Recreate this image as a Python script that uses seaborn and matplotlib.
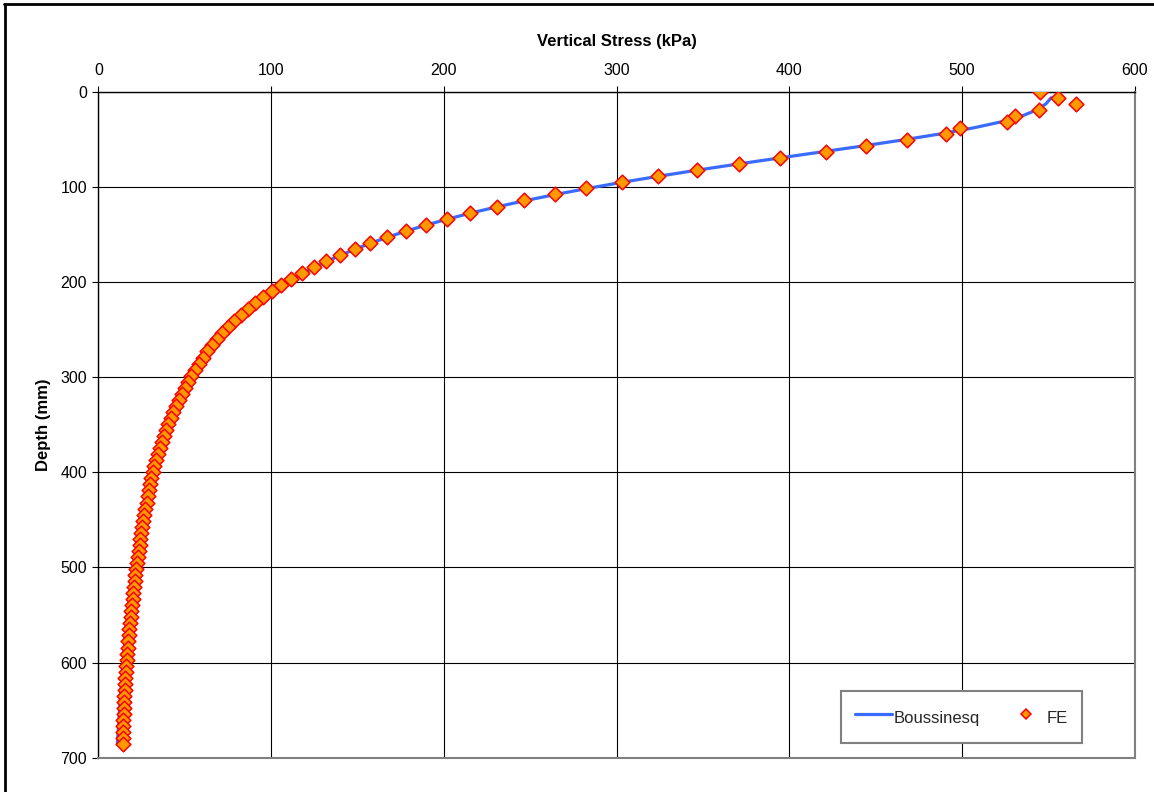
import matplotlib
matplotlib.use("Agg")
import matplotlib.pyplot as plt
from matplotlib.lines import Line2D
import seaborn as sns
import pandas as pd

sns.set_theme(style="white")
plt.rcParams["font.family"] = ["Liberation Sans", "DejaVu Sans"]

# Depth of each output point (mm)
depth_mm = [
    0.0, 6.35, 12.7, 19.05, 25.4, 31.75, 38.1, 44.45, 50.8, 57.15,
    63.5, 69.85, 76.2, 82.55, 88.9, 95.25, 101.6, 107.95, 114.3, 120.65,
    127.0, 133.35, 139.7, 146.05, 152.4, 158.75, 165.1, 171.45, 177.8, 184.15,
    190.5, 196.85, 203.2, 209.55, 215.9, 222.25, 228.6, 234.95, 241.3, 247.65,
    254.0, 260.35, 266.7, 273.05, 279.4, 285.75, 292.1, 298.45, 304.8, 311.15,
    317.5, 323.85, 330.2, 336.55, 342.9, 349.25, 355.6, 361.95, 368.3, 374.65,
    381.0, 387.35, 393.7, 400.05, 406.4, 412.75, 419.1, 425.45, 431.8, 438.15,
    444.5, 450.85, 457.2, 463.55, 469.9, 476.25, 482.6, 488.95, 495.3, 501.65,
    508.0, 514.35, 520.7, 527.05, 533.4, 539.75, 546.1, 552.45, 558.8, 565.15,
    571.5, 577.85, 584.2, 590.55, 596.9, 603.25, 609.6, 615.95, 622.3, 628.65,
    635.0, 641.35, 647.7, 654.05, 660.4, 666.75, 673.1, 679.45, 685.8,
]

# Finite element vertical stress (kPa)
fe_kpa = [
    545.3, 555.7, 566.1, 544.6, 530.7, 525.9, 498.9, 490.5, 468.1, 444.2,
    420.9, 394.8, 370.9, 346.7, 323.9, 302.9, 282.5, 264.1, 246.1, 230.6,
    215.1, 202.0, 189.5, 178.0, 167.2, 157.3, 148.3, 139.8, 131.5, 124.8,
    117.7, 111.7, 105.7, 100.5, 95.5, 90.9, 86.6, 82.6, 78.5, 75.0,
    71.8, 68.9, 66.0, 62.9, 60.6, 58.3, 56.0, 53.6, 52.1, 50.2,
    48.4, 46.7, 45.0, 43.4, 41.9, 40.5, 39.2, 37.9, 36.7, 35.6,
    34.5, 33.5, 32.5, 31.5, 30.7, 29.9, 29.2, 28.5, 27.9, 27.2,
    26.6, 26.0, 25.4, 24.9, 24.4, 23.9, 23.4, 22.9, 22.4, 21.9,
    21.4, 21.0, 20.6, 20.2, 19.8, 19.4, 19.0, 18.7, 18.3, 18.0,
    17.7, 17.4, 17.1, 16.8, 16.5, 16.2, 16.0, 15.7, 15.5, 15.3,
    15.1, 14.9, 14.7, 14.6, 14.5, 14.4, 14.3, 14.2, 14.1,
]

# Boussinesq solution (kPa), starting at the first depth below the surface
boussinesq_kpa = [
    551.5, 548.5, 543.2, 534.8, 522.4, 506.3, 487.0, 465.3, 442.0, 417.8,
    393.5, 369.5, 346.3, 324.1, 303.0, 283.3, 264.8, 247.6, 231.6, 216.8,
    203.2, 190.6, 179.0, 168.2, 158.3, 149.2, 140.7, 132.9, 125.6, 118.9,
    112.7, 106.9, 101.5, 96.5, 91.8, 87.5, 83.4, 79.6, 76.1, 72.7,
    69.6, 66.7, 63.9, 61.3, 58.8, 56.5, 54.4, 52.3, 50.4, 48.5,
    46.8, 45.1, 43.5, 42.0, 40.6, 39.3, 38.0, 36.8, 35.6, 34.5,
    33.4, 32.4, 31.4, 30.5, 29.6, 28.8, 27.9, 27.2, 26.4, 25.7,
    25.0, 24.3, 23.7, 23.1, 22.5, 21.9, 21.4, 20.8, 20.3, 19.8,
    19.4, 18.9, 18.5, 18.1, 17.6, 17.2, 16.9, 16.5, 16.1, 15.8,
    15.4, 15.1, 14.8, 14.5, 14.2, 13.9, 13.6, 13.4, 13.1, 12.8,
    12.6, 12.3, 12.1, 11.9, 11.7, 11.5, 11.2, 11.0,
]
boussinesq_depth_mm = depth_mm[1:]

stress_ticks = [0, 100, 200, 300, 400, 500, 600]
depth_ticks = [0, 100, 200, 300, 400, 500, 600, 700]

line_df = pd.DataFrame({"stress": boussinesq_kpa, "depth": boussinesq_depth_mm})
fe_df = pd.DataFrame({"stress": fe_kpa, "depth": depth_mm})

LINE_BLUE = "#3A6BFF"
FILL_ORANGE = "#FF9900"
EDGE_RED = "#FF0000"
TICK_FS = 11.5
LABEL_FS = 12

fig = plt.figure(figsize=(11.54, 7.92), dpi=100)
ax = fig.add_axes([0.0852, 0.0433, 0.8983, 0.8409])

sns.lineplot(data=line_df, x="stress", y="depth", sort=False, estimator=None,
             color=LINE_BLUE, linewidth=2.3, ax=ax, legend=False, zorder=2)
sns.scatterplot(data=fe_df, x="stress", y="depth", marker="D", s=56,
                color=FILL_ORANGE, edgecolor=EDGE_RED, linewidth=1.1,
                ax=ax, legend=False, zorder=3)

ax.set_xlim(0, 600)
ax.set_ylim(700, 0)
ax.set_xticks(stress_ticks)
ax.set_yticks(depth_ticks)
ax.xaxis.tick_top()
ax.xaxis.set_label_position("top")

ax.set_axisbelow(True)
ax.grid(True, color="black", linewidth=0.8)

ax.tick_params(axis="x", top=True, bottom=False, direction="out", length=4,
               width=0.8, color="black", pad=6, labelsize=TICK_FS, labelcolor="black")
ax.tick_params(axis="y", left=True, right=False, direction="out", length=4,
               width=0.8, color="black", pad=4, labelsize=TICK_FS, labelcolor="black")

ax.set_xlabel("Vertical Stress (kPa)", fontsize=LABEL_FS, fontweight="bold", color="black")
ax.set_ylabel("Depth (mm)", fontsize=LABEL_FS, fontweight="bold", color="black")
ax.xaxis.set_label_coords(0.5, 1.069)
ax.yaxis.set_label_coords(-0.046, 0.5)

for side in ("top", "left"):
    ax.spines[side].set_color("black")
    ax.spines[side].set_linewidth(1.0)
for side in ("right", "bottom"):
    ax.spines[side].set_color("#808080")
    ax.spines[side].set_linewidth(1.5)

handles = [
    Line2D([0], [0], color=LINE_BLUE, linewidth=2.3),
    Line2D([0], [0], linestyle="none", marker="D", markersize=5.5,
           markerfacecolor=FILL_ORANGE, markeredgecolor=EDGE_RED, markeredgewidth=1.1),
]
leg = ax.legend(handles, ["Boussinesq", "FE"], ncol=2, loc="lower right",
                bbox_to_anchor=(0.9489, 0.0221), borderaxespad=0,
                frameon=True, fancybox=False, framealpha=1, edgecolor="#808080",
                fontsize=LABEL_FS, handlelength=2.2, handleheight=1.8,
                handletextpad=0.12, columnspacing=1.68, borderpad=0.84)
leg.get_frame().set_linewidth(1.5)

# Page border on the left and top edges
fig.add_artist(Line2D([5.3 / 1154, 5.3 / 1154], [0, 1 - 4 / 792],
                      transform=fig.transFigure, color="black", linewidth=2.0))
fig.add_artist(Line2D([4 / 1154, 1], [1 - 4 / 792, 1 - 4 / 792],
                      transform=fig.transFigure, color="black", linewidth=2.0))

fig.savefig("out.png", dpi=100, facecolor="white")
